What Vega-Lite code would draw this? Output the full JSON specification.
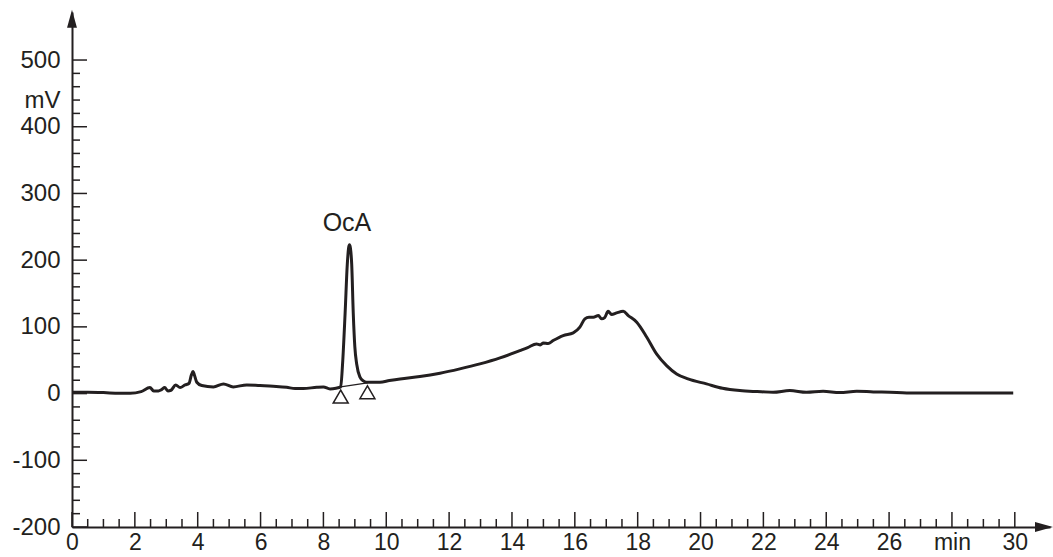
{
  "$schema": "https://vega.github.io/schema/vega-lite/v6.json",
  "width": 978,
  "height": 515,
  "autosize": {"type": "none"},
  "padding": {"left": 72, "top": 12, "right": 3, "bottom": 30},
  "background": "white",
  "config": {"view": {"stroke": null}, "font": "Liberation Sans"},
  "datasets": {
    "trace": [
      {"t": 0, "mv": 2}, {"t": 0.5, "mv": 2}, {"t": 1.0, "mv": 1.5}, {"t": 1.5, "mv": 0.5}, {"t": 1.85, "mv": 0.5},
      {"t": 2.2, "mv": 3}, {"t": 2.48, "mv": 9}, {"t": 2.6, "mv": 4}, {"t": 2.75, "mv": 4}, {"t": 2.85, "mv": 6},
      {"t": 2.95, "mv": 9}, {"t": 3.05, "mv": 4}, {"t": 3.15, "mv": 5}, {"t": 3.3, "mv": 13}, {"t": 3.44, "mv": 9},
      {"t": 3.6, "mv": 13}, {"t": 3.72, "mv": 15}, {"t": 3.8, "mv": 28}, {"t": 3.85, "mv": 33}, {"t": 3.9, "mv": 27},
      {"t": 3.97, "mv": 17}, {"t": 4.13, "mv": 12}, {"t": 4.5, "mv": 10}, {"t": 4.82, "mv": 14.5}, {"t": 5.13, "mv": 10},
      {"t": 5.56, "mv": 13}, {"t": 5.98, "mv": 12}, {"t": 6.4, "mv": 11}, {"t": 6.83, "mv": 9.5}, {"t": 7.1, "mv": 7.5},
      {"t": 7.36, "mv": 7.5}, {"t": 7.79, "mv": 9.5}, {"t": 8.0, "mv": 10}, {"t": 8.21, "mv": 7}, {"t": 8.4, "mv": 8},
      {"t": 8.55, "mv": 10}, {"t": 8.61, "mv": 45}, {"t": 8.69, "mv": 120}, {"t": 8.76, "mv": 194}, {"t": 8.8, "mv": 218},
      {"t": 8.83, "mv": 223}, {"t": 8.86, "mv": 218}, {"t": 8.9, "mv": 194}, {"t": 8.95, "mv": 120}, {"t": 9.0, "mv": 70},
      {"t": 9.06, "mv": 44}, {"t": 9.16, "mv": 25}, {"t": 9.27, "mv": 19}, {"t": 9.37, "mv": 17}, {"t": 9.6, "mv": 17},
      {"t": 9.8, "mv": 17}, {"t": 10.1, "mv": 19.5}, {"t": 10.44, "mv": 22}, {"t": 11.07, "mv": 25.5}, {"t": 11.71, "mv": 30.5},
      {"t": 12.34, "mv": 37}, {"t": 12.98, "mv": 44.5}, {"t": 13.62, "mv": 53.5}, {"t": 14.25, "mv": 64.5}, {"t": 14.5, "mv": 69},
      {"t": 14.78, "mv": 74.5}, {"t": 14.9, "mv": 73}, {"t": 15.0, "mv": 76}, {"t": 15.15, "mv": 75}, {"t": 15.31, "mv": 79.5},
      {"t": 15.63, "mv": 87}, {"t": 15.95, "mv": 91}, {"t": 16.16, "mv": 99.5}, {"t": 16.32, "mv": 112}, {"t": 16.45, "mv": 114.5},
      {"t": 16.59, "mv": 114.5}, {"t": 16.75, "mv": 117}, {"t": 16.85, "mv": 112}, {"t": 16.95, "mv": 114}, {"t": 17.06, "mv": 123.5},
      {"t": 17.17, "mv": 118.5}, {"t": 17.33, "mv": 121}, {"t": 17.54, "mv": 123.5}, {"t": 17.7, "mv": 117}, {"t": 17.97, "mv": 107},
      {"t": 18.29, "mv": 84.5}, {"t": 18.6, "mv": 59.5}, {"t": 18.92, "mv": 42}, {"t": 19.24, "mv": 29.5}, {"t": 19.6, "mv": 22},
      {"t": 20.19, "mv": 14.5}, {"t": 20.7, "mv": 8}, {"t": 21.25, "mv": 4.5}, {"t": 21.8, "mv": 3}, {"t": 22.31, "mv": 2},
      {"t": 22.84, "mv": 4.5}, {"t": 23.37, "mv": 2}, {"t": 23.9, "mv": 3.5}, {"t": 24.43, "mv": 1.5}, {"t": 24.97, "mv": 3.5},
      {"t": 25.5, "mv": 2.5}, {"t": 26.03, "mv": 2}, {"t": 26.56, "mv": 1}, {"t": 27.5, "mv": 1}, {"t": 28.68, "mv": 1},
      {"t": 29.95, "mv": 1}
    ],
    "baseline": [{"t": 8.55, "mv": 10}, {"t": 9.4, "mv": 16}],
    "marks": [{"t": 8.55, "mv": -4.5}, {"t": 9.4, "mv": 2}],
    "label": [{"t": 8.75, "mv": 256, "name": "OcA"}],
    "yarrow": [{"t": 0, "mv": 562}],
    "xarrow": [{"t": 30.93, "mv": -200}],
    "xmajor": [{"t": 0}, {"t": 2}, {"t": 4}, {"t": 6}, {"t": 8}, {"t": 10}, {"t": 12}, {"t": 14}, {"t": 16}, {"t": 18}, {"t": 20}, {"t": 22}, {"t": 24}, {"t": 26}, {"t": 28}, {"t": 30}],
    "xminor": [{"t": 0.5}, {"t": 1}, {"t": 1.5}, {"t": 2.5}, {"t": 3}, {"t": 3.5}, {"t": 4.5}, {"t": 5}, {"t": 5.5}, {"t": 6.5}, {"t": 7}, {"t": 7.5}, {"t": 8.5}, {"t": 9}, {"t": 9.5}, {"t": 10.5}, {"t": 11}, {"t": 11.5}, {"t": 12.5}, {"t": 13}, {"t": 13.5}, {"t": 14.5}, {"t": 15}, {"t": 15.5}, {"t": 16.5}, {"t": 17}, {"t": 17.5}, {"t": 18.5}, {"t": 19}, {"t": 19.5}, {"t": 20.5}, {"t": 21}, {"t": 21.5}, {"t": 22.5}, {"t": 23}, {"t": 23.5}, {"t": 24.5}, {"t": 25}, {"t": 25.5}, {"t": 26.5}, {"t": 27}, {"t": 27.5}, {"t": 28.5}, {"t": 29}, {"t": 29.5}],
    "ymajor": [{"mv": -200}, {"mv": -100}, {"mv": 0}, {"mv": 100}, {"mv": 200}, {"mv": 300}, {"mv": 400}, {"mv": 500}],
    "yminor": [{"mv": -180}, {"mv": -160}, {"mv": -140}, {"mv": -120}, {"mv": -80}, {"mv": -60}, {"mv": -40}, {"mv": -20}, {"mv": 20}, {"mv": 40}, {"mv": 60}, {"mv": 80}, {"mv": 120}, {"mv": 140}, {"mv": 160}, {"mv": 180}, {"mv": 220}, {"mv": 240}, {"mv": 260}, {"mv": 280}, {"mv": 320}, {"mv": 340}, {"mv": 360}, {"mv": 380}, {"mv": 420}, {"mv": 440}, {"mv": 460}, {"mv": 480}]
  },
  "layer": [
    {
      "data": {"name": "trace"},
      "mark": {"type": "line", "color": "#231f20", "strokeWidth": 3, "interpolate": "monotone", "clip": true},
      "encoding": {
        "x": {
          "field": "t", "type": "quantitative",
          "scale": {"domain": [0, 31.12], "nice": false, "zero": false},
          "axis": {
            "title": null, "grid": false, "ticks": false,
            "values": [0,2,4,6,8,10,12,14,16,18,20,22,24,26,28,30],
            "domainColor": "#231f20", "domainWidth": 2,
            "labelExpr": "datum.value === 28 ? 'min' : '' + datum.value",
            "labelFont": "Liberation Sans", "labelFontSize": 23, "labelColor": "#231f20",
            "labelPadding": 4, "labelOverlap": false, "labelFlush": false, "labelBound": false
          }
        },
        "y": {
          "field": "mv", "type": "quantitative",
          "scale": {"domain": [-200, 572], "nice": false, "zero": false},
          "axis": {
            "title": null, "grid": false, "ticks": false,
            "values": [-200,-100,0,100,200,300,400,440,500],
            "domainColor": "#231f20", "domainWidth": 2,
            "labelExpr": "datum.value === 440 ? 'mV' : '' + datum.value",
            "labelFont": "Liberation Sans", "labelFontSize": 24, "labelColor": "#231f20",
            "labelPadding": 12, "labelOverlap": false, "labelFlush": false, "labelBound": false
          }
        }
      }
    },
    {
      "data": {"name": "xmajor"},
      "mark": {"type": "tick", "orient": "vertical", "size": 15, "thickness": 1.5, "color": "#231f20", "opacity": 1, "yOffset": -7.5, "clip": false},
      "encoding": {
        "x": {"field": "t", "type": "quantitative"},
        "y": {"datum": -200, "type": "quantitative"}
      }
    },
    {
      "data": {"name": "xminor"},
      "mark": {"type": "tick", "orient": "vertical", "size": 8, "thickness": 1.5, "color": "#231f20", "opacity": 1, "yOffset": -4, "clip": false},
      "encoding": {
        "x": {"field": "t", "type": "quantitative"},
        "y": {"datum": -200, "type": "quantitative"}
      }
    },
    {
      "data": {"name": "ymajor"},
      "mark": {"type": "tick", "orient": "horizontal", "size": 15, "thickness": 1.5, "color": "#231f20", "opacity": 1, "xOffset": 7.5, "clip": false},
      "encoding": {
        "y": {"field": "mv", "type": "quantitative"},
        "x": {"datum": 0, "type": "quantitative"}
      }
    },
    {
      "data": {"name": "yminor"},
      "mark": {"type": "tick", "orient": "horizontal", "size": 8, "thickness": 1.5, "color": "#231f20", "opacity": 1, "xOffset": 4, "clip": false},
      "encoding": {
        "y": {"field": "mv", "type": "quantitative"},
        "x": {"datum": 0, "type": "quantitative"}
      }
    },
    {
      "data": {"name": "baseline"},
      "mark": {"type": "line", "color": "#231f20", "strokeWidth": 1.2},
      "encoding": {
        "x": {"field": "t", "type": "quantitative"},
        "y": {"field": "mv", "type": "quantitative"}
      }
    },
    {
      "data": {"name": "marks"},
      "mark": {"type": "point", "shape": "triangle-up", "size": 225, "filled": false, "stroke": "#231f20", "strokeWidth": 1.5, "opacity": 1},
      "encoding": {
        "x": {"field": "t", "type": "quantitative"},
        "y": {"field": "mv", "type": "quantitative"}
      }
    },
    {
      "data": {"name": "label"},
      "mark": {"type": "text", "font": "Liberation Sans", "fontSize": 25, "color": "#231f20", "align": "center", "baseline": "middle"},
      "encoding": {
        "x": {"field": "t", "type": "quantitative"},
        "y": {"field": "mv", "type": "quantitative"},
        "text": {"field": "name"}
      }
    },
    {
      "data": {"name": "yarrow"},
      "mark": {"type": "point", "shape": "M0,-1L0.55,1L-0.55,1Z", "size": 324, "filled": true, "color": "#231f20", "opacity": 1, "clip": false},
      "encoding": {
        "x": {"field": "t", "type": "quantitative"},
        "y": {"field": "mv", "type": "quantitative"}
      }
    },
    {
      "data": {"name": "xarrow"},
      "mark": {"type": "point", "shape": "M1,0L-1,-0.55L-1,0.55Z", "size": 324, "filled": true, "color": "#231f20", "opacity": 1, "clip": false},
      "encoding": {
        "x": {"field": "t", "type": "quantitative"},
        "y": {"field": "mv", "type": "quantitative"}
      }
    }
  ]
}
